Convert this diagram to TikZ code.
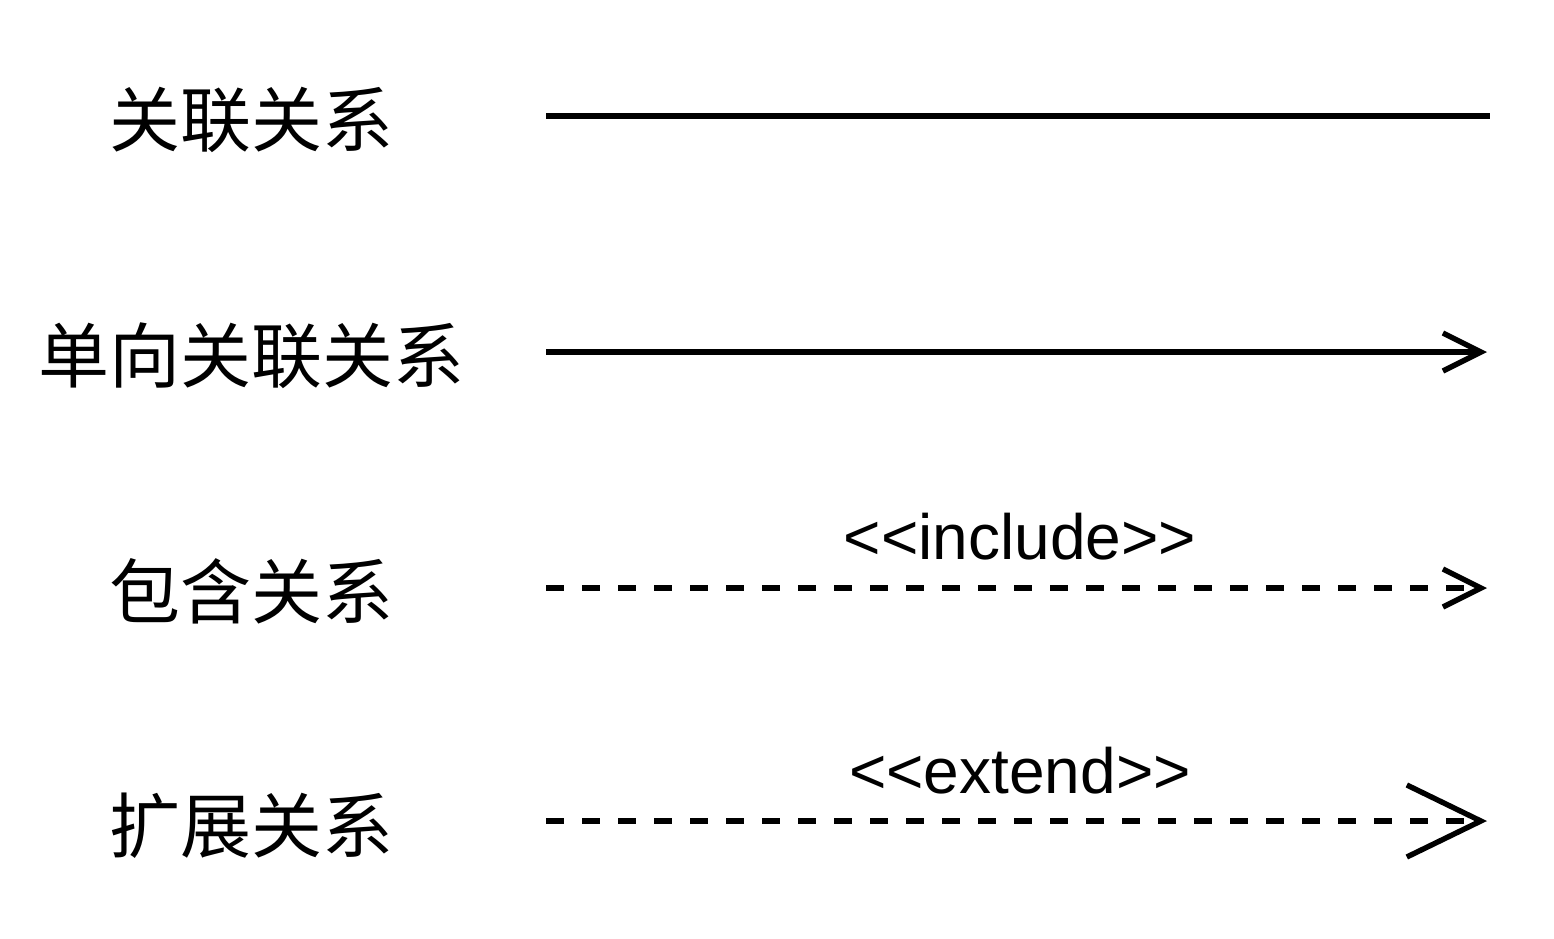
\documentclass[tikz,border=0pt]{standalone}
\usepackage{fontspec}
\setmainfont{Liberation Sans}
\newfontfamily\cjk{Noto Sans CJK SC}
\usetikzlibrary{arrows.meta}
\begin{document}
\begin{tikzpicture}[x=0.5pt,y=-0.5pt,
  lbl/.style={font=\cjk\fontsize{35.5}{40}\selectfont, inner sep=0pt, anchor=center},
  stereo/.style={font=\fontsize{32}{36}\selectfont, inner sep=0pt, anchor=center},
  conn/.style={line width=2.7pt, line cap=butt},
  dashconn/.style={conn, dash pattern=on 9pt off 9pt},
  smallhead/.style={-{Straight Barb[length=19pt,width=19pt,line width=2.7pt]}},
  bighead/.style={-{Straight Barb[length=37pt,width=36pt,line width=2.7pt]}}]
\useasboundingbox (0,0) rectangle (1554,938);
\node[lbl] (t1) at (251,120) {关联关系};
\node[lbl] (t2) at (252,356) {单向关联关系};
\node[lbl] (t3) at (251,591) {包含关系};
\node[lbl] (t4) at (251,826) {扩展关系};
\coordinate (a1) at (546,116); \coordinate (b1) at (1490,116);
\coordinate (a2) at (546,352); \coordinate (b2) at (1487,352);
\coordinate (a3) at (546,588); \coordinate (b3) at (1487,588);
\coordinate (a4) at (546,821); \coordinate (b4) at (1487,821);
\draw[conn] (a1) -- (b1);
\draw[conn, smallhead] (a2) -- (b2);
\draw[dashconn, smallhead] (a3) -- (b3);
\draw[dashconn, bighead] (a4) -- (b4);
\node[stereo] (s3) at (1020,537) {<{}<include>{}>};
\node[stereo] (s4) at (1020,771) {<{}<extend>{}>};
\end{tikzpicture}
\end{document}
